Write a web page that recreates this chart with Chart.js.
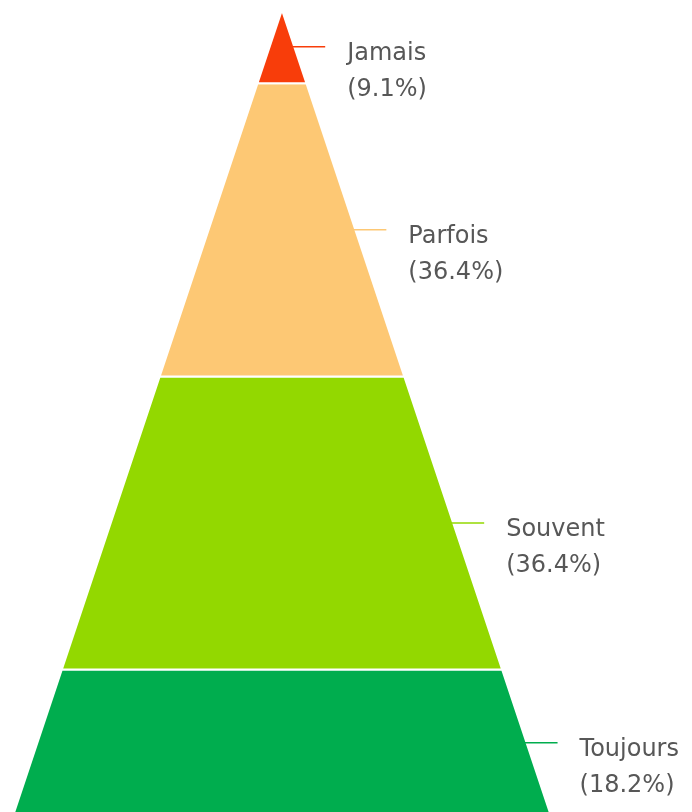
<!DOCTYPE html>
<html lang="fr">
<head>
    <meta charset="utf-8">
    <script src="https://cdn.jsdelivr.net/npm/chart.js"></script>
    <title>Pyramide</title>
    <style>
        html, body {
            margin: 0;
            padding: 0;
            background: #ffffff;
        }
        .chart-box {
            width: 692px;
            height: 812px;
        }
    </style>
</head>
<body>
    <div class="chart-box">
        <canvas id="pyramidChart"></canvas>
    </div>

    <script>
        // data, top of pyramid first
        const categories = ['Jamais', 'Parfois', 'Souvent', 'Toujours'];
        const percents = [9.1, 36.4, 36.4, 18.2];
        const layerColors = ['#f83d0a', '#fdc874', '#93d800', '#00ad4e'];

        const total = percents.reduce((a, b) => a + b, 0);

        // each layer is a trapezoid: y = cumulative share (0 = apex, 100 = base), x = half width
        function buildLayer(i) {
            let top = 0;
            for (let k = 0; k < i; k++) top += percents[k] / total * 100;
            const bottom = top + percents[i] / total * 100;
            const t = top / 100, b = bottom / 100;
            return [
                { x: -t, y: top },
                { x: t, y: top },
                { x: b, y: bottom },
                { x: -b, y: bottom },
                { x: -t, y: top }
            ];
        }

        function layerMiddle(i) {
            let top = 0;
            for (let k = 0; k < i; k++) top += percents[k] / total * 100;
            return top + percents[i] / total * 50;
        }

        const datasets = categories.map((name, i) => ({
            label: name,
            data: buildLayer(i),
            showLine: true,
            fill: 'shape',
            backgroundColor: layerColors[i],
            borderColor: '#ffffff',
            borderWidth: 2,
            pointRadius: 0,
            tension: 0
        }));

        const labelPlugin = {
            id: 'pyramidLabels',
            afterDatasetsDraw(chart) {
                const ctx = chart.ctx;
                const xs = chart.scales.x, ys = chart.scales.y;
                ctx.save();
                categories.forEach((name, i) => {
                    const mid = layerMiddle(i);
                    const py = ys.getPixelForValue(mid);
                    const px = xs.getPixelForValue(mid / 100);
                    ctx.strokeStyle = layerColors[i];
                    ctx.lineWidth = 1.5;
                    ctx.beginPath();
                    ctx.moveTo(px - 2, py);
                    ctx.lineTo(px + 31, py);
                    ctx.stroke();

                    ctx.fillStyle = '#575757';
                    ctx.font = '24px "DejaVu Sans", sans-serif';
                    ctx.textAlign = 'left';
                    ctx.textBaseline = 'middle';
                    ctx.fillText(name, px + 53, py + 7);
                    ctx.fillText('(' + percents[i].toFixed(1) + '%)', px + 53, py + 43);
                });
                ctx.restore();
            }
        };

        new Chart(document.getElementById('pyramidChart'), {
            type: 'scatter',
            data: { datasets: datasets },
            options: {
                responsive: true,
                maintainAspectRatio: false,
                animation: false,
                layout: { padding: { top: 10, bottom: 0, left: 0, right: 0 } },
                plugins: {
                    legend: { display: false },
                    tooltip: { enabled: false }
                },
                scales: {
                    x: { type: 'linear', min: -1.048, max: 1.524, display: false },
                    y: { type: 'linear', min: 0, max: 99.5, reverse: true, display: false }
                }
            },
            plugins: [labelPlugin]
        });
    </script>
</body>
</html>
